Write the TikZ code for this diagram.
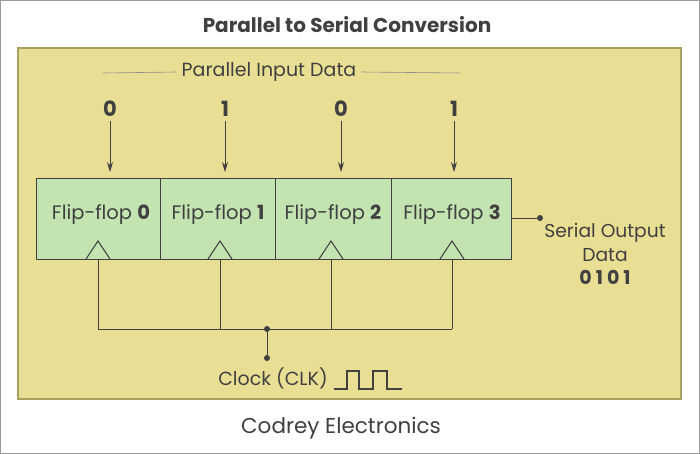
\documentclass[tikz,border=0pt]{standalone}
\usepackage{fontspec}
\setmainfont{Poppins}
\usetikzlibrary{arrows.meta}
\begin{document}
\definecolor{panel}{HTML}{E8DF94}
\definecolor{panelb}{HTML}{A8A060}
\definecolor{ffill}{HTML}{C3E3B1}
\definecolor{ink}{HTML}{404040}
\definecolor{frame}{HTML}{9A9A9A}
\begin{tikzpicture}[x=1pt,y=-1pt,
  ff/.style={draw=ink,line width=1.2pt,fill=ffill,minimum width=#1,minimum height=81pt,inner sep=0pt,anchor=north west},
  lbl/.style={text=ink,font=\fontsize{19}{23}\selectfont,inner sep=0pt},
  fflbl/.style={text=ink,font=\fontsize{19.5}{22}\selectfont,inner sep=0pt},
  digit/.style={text=ink,font=\bfseries\fontsize{21}{23}\selectfont,inner sep=0pt},
  wire/.style={draw=ink,line width=1pt},
  dot/.style={circle,fill=ink,inner sep=0pt,minimum size=6pt},
  tri/.style={draw=ink,line width=1pt}]
\useasboundingbox (0,0) rectangle (700,454);
\draw[frame,line width=1.2pt] (0.6,0.6) rectangle (699.4,453.4);
\draw[panelb,fill=panel,line width=1.2pt] (18,48) rectangle (681,399);
\node[text=ink,font=\bfseries\fontsize{20}{22}\selectfont] (title) at (347,25) {Parallel to Serial Conversion};
\node[lbl,inner xsep=5pt] (pid) at (269,72) {Parallel Input Data};
\coordinate (l1a) at (103,73); \coordinate (l2b) at (460,73);
\draw[ink!60,line width=0.6pt] (l1a) -- (pid.west);
\draw[ink!60,line width=0.6pt] (pid.east) -- (l2b);
% boxes
\node[ff=124pt] (f0) at (36,178) {};
\node[ff=115pt] (f1) at (160,178) {};
\node[ff=116pt] (f2) at (275,178) {};
\node[ff=120pt] (f3) at (391,178) {};
\node[fflbl] at (101,215) {Flip-flop \textbf{0}};
\node[fflbl] at (218,215) {Flip-flop \textbf{1}};
\node[fflbl] at (333,215) {Flip-flop \textbf{2}};
\node[fflbl] at (452,215) {Flip-flop \textbf{3}};
% digits and arrows
\foreach \x/\d/\n/\b in {110/0/a/f0,225/1/b/f1,341/0/c/f2,454/1/d/f3}{
  \node[digit] (in\n) at (\x,109) {\d};
  \coordinate (tp\n) at (\x,178);
  \draw[draw=ink,line width=0.9pt,shorten <=4pt,shorten >=6pt,-{Stealth[length=10pt,width=6pt]}] (in\n.south) -- (tp\n);
}
% clock triangles
\foreach \x/\n in {98/a,220/b,331/c,452/d}{
  \coordinate (cb\n) at (\x,259);
  \draw[tri] (\x-12,259) -- (\x,241) -- (\x+12,259);
  \coordinate (cl\n) at (\x,329);
  \draw[wire] (cb\n) -- (cl\n);
}
\draw[wire] (cla) -- (cld);
\node[dot] (j1) at (267,329) {};
\node[dot] (j2) at (267,358) {};
\draw[wire] (j1) -- (j2);
\node[lbl] (clk) at (273,378) {Clock (CLK)};
\draw[ink,line width=1.4pt] (334,389) -- (347,389) -- (347,371) -- (359,371) -- (359,389) -- (373,389) -- (373,371) -- (387,371) -- (387,389) -- (402,389);
% output
\node[dot] (od) at (540,218) {};
\draw[wire] (f3.east |- od) -- (od);
\node[lbl,align=center,font=\fontsize{18.7}{24}\selectfont] (so) at (605,242) {Serial Output\\Data};
\node[text=ink,font=\bfseries\fontsize{19}{21}\selectfont,inner sep=0pt] (bits) at (605,277) {0\hspace{4pt}1\hspace{4pt}0\hspace{4pt}1};
\node[text=ink,font=\fontsize{21.5}{24}\selectfont] (cod) at (341,428) {Codrey Electronics};
\end{tikzpicture}
\end{document}
